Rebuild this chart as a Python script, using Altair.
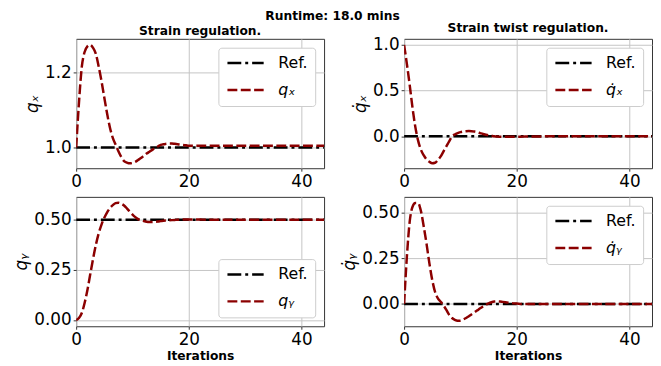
import altair as alt
import pandas as pd

# ---------------- data ----------------
iterations = [0, 0.5, 1, 1.5, 2, 2.5, 3, 3.5, 4, 4.5, 5, 5.5, 6, 6.5, 7, 7.5, 8, 8.5, 9, 9.5,
              10, 10.5, 11, 11.5, 12, 12.5, 13, 13.5, 14, 14.5, 15, 15.5, 16, 16.5, 17, 17.5,
              18, 18.5, 19, 19.5, 20, 21, 22, 23, 24, 25, 26, 27, 28, 29, 30, 31, 32, 33, 34,
              35, 36, 37, 38, 39, 40, 41, 42, 43, 44]

q_x = [1.000, 1.120, 1.215, 1.255, 1.270, 1.274, 1.266, 1.250, 1.216, 1.177, 1.133, 1.090,
       1.053, 1.026, 1.008, 0.990, 0.975, 0.964, 0.960, 0.958, 0.959, 0.962, 0.967, 0.972,
       0.978, 0.984, 0.989, 0.994, 0.999, 1.003, 1.007, 1.009, 1.010, 1.011, 1.011, 1.010,
       1.009, 1.008, 1.007, 1.006, 1.005, 1.005, 1.005, 1.005, 1.005, 1.005, 1.005, 1.005,
       1.005, 1.005, 1.005, 1.005, 1.005, 1.005, 1.005, 1.005, 1.005, 1.005, 1.005, 1.005,
       1.005, 1.005, 1.005, 1.005, 1.005]

qd_x = [1.000, 0.790, 0.560, 0.310, 0.100, -0.050, -0.150, -0.210, -0.255, -0.280, -0.295,
        -0.290, -0.260, -0.220, -0.165, -0.110, -0.055, -0.005, 0.020, 0.035, 0.045, 0.052,
        0.056, 0.057, 0.056, 0.052, 0.045, 0.035, 0.025, 0.017, 0.010, 0.005, 0.000, -0.003,
        -0.005, -0.006, -0.006, -0.006, -0.006, -0.005, -0.005, -0.004, -0.003, -0.002,
        -0.002, -0.001, -0.001, 0.000, 0.000, 0.000, 0.000, 0.000, 0.000, 0.000, 0.000,
        0.000, 0.000, 0.000, 0.000, 0.000, 0.000, 0.000, 0.000, 0.000, 0.000]

q_y = [0.000, 0.010, 0.035, 0.085, 0.150, 0.228, 0.305, 0.375, 0.432, 0.476, 0.510, 0.537,
       0.558, 0.573, 0.583, 0.585, 0.580, 0.571, 0.557, 0.541, 0.526, 0.513, 0.503, 0.497,
       0.493, 0.490, 0.489, 0.489, 0.490, 0.491, 0.493, 0.495, 0.496, 0.497, 0.498, 0.499,
       0.500, 0.500, 0.501, 0.501, 0.501, 0.501, 0.501, 0.500, 0.500, 0.500, 0.500, 0.500,
       0.500, 0.500, 0.500, 0.500, 0.500, 0.500, 0.500, 0.500, 0.500, 0.500, 0.500, 0.500,
       0.500, 0.500, 0.500, 0.500, 0.500]

qd_y = [0.000, 0.260, 0.450, 0.530, 0.550, 0.550, 0.505, 0.420, 0.325, 0.220, 0.130, 0.065,
        0.030, 0.012, -0.008, -0.033, -0.060, -0.077, -0.087, -0.092, -0.092, -0.085, -0.077,
        -0.067, -0.056, -0.046, -0.035, -0.024, -0.014, -0.005, 0.003, 0.009, 0.013, 0.014,
        0.013, 0.011, 0.009, 0.007, 0.005, 0.003, 0.002, 0.000, 0.000, 0.000, 0.000, 0.000,
        0.000, 0.000, 0.000, 0.000, 0.000, 0.000, 0.000, 0.000, 0.000, 0.000, 0.000, 0.000,
        0.000, 0.000, 0.000, 0.000, 0.000, 0.000, 0.000]

ref_x = [0, 44]
ref_qx = [1.0, 1.0]
ref_qdx = [0.0, 0.0]
ref_qy = [0.5, 0.5]
ref_qdy = [0.0, 0.0]

labels = ["q\u2093", "q\u0307\u2093", "q\u1d67", "q\u0307\u1d67"]
titles = ["Strain regulation.", "Strain twist regulation.", "", ""]
suptitle = "Runtime: 18.0 mins"
xlabel = "Iterations"

FONT = "DejaVu Sans"


def panel(series, ref, label, ydom, yticks, yfmt, title, orient, bottom):
    df = pd.DataFrame({"x": iterations, "v": series, "s": label})
    dr = pd.DataFrame({"x": ref_x, "v": ref, "s": "Ref."})
    dom = ["Ref.", label]
    legend = alt.Legend(
        title=None, orient=orient, offset=9, symbolType="M-4,0H4", symbolSize=84,
        symbolOffset=12, symbolStrokeWidth=2.5, symbolFillColor="transparent",
        labelFontSize=16, labelFont=FONT, labelColor="black",
        labelOffset=25, rowPadding=11.3, padding=7.5, strokeColor="#cccccc",
        cornerRadius=3, fillColor="white",
        labelFontStyle=alt.ExprRef(expr="datum.label == 'Ref.' ? 'normal' : 'italic'"),
    )
    color = alt.Color("s:N", scale=alt.Scale(domain=dom, range=["black", "#8b0000"]), legend=legend)
    dash = alt.StrokeDash("s:N", scale=alt.Scale(domain=dom, range=[[14, 4, 3, 4], [10, 3.5]]), legend=legend)
    xaxis = alt.Axis(values=[0, 20, 40], format="d", labelFontSize=17, labelFont=FONT,
                     labelColor="black", labelFlush=False, tickSize=3, tickColor="#333",
                     labelPadding=2, domain=False, grid=True, gridColor="#c4c4c4", gridWidth=1,
                     title=xlabel if bottom else None, titleFontSize=12.4, titleFont=FONT,
                     titleFontWeight="bold", titleColor="black", titlePadding=3)
    yaxis = alt.Axis(values=yticks, format=yfmt, labelFontSize=17, labelFont=FONT,
                     labelColor="black", labelFlush=False, tickSize=3, tickColor="#333",
                     labelPadding=2, domain=False, grid=True, gridColor="#c4c4c4", gridWidth=1,
                     title=label, titleFontSize=17, titleFont=FONT, titleFontStyle="italic",
                     titleFontWeight="normal", titleColor="black", titlePadding=3)
    xs = alt.X("x:Q", scale=alt.Scale(domain=[0, 44], nice=False), axis=xaxis)
    ys = alt.Y("v:Q", scale=alt.Scale(domain=ydom, nice=False, zero=False), axis=yaxis)
    ref_line = alt.Chart(dr).mark_line(strokeWidth=2.5, clip=True).encode(
        x=xs, y=ys, color=color, strokeDash=dash)
    q_line = alt.Chart(df).mark_line(strokeWidth=2.5, clip=True, interpolate="monotone").encode(
        x=xs, y=ys, color=color, strokeDash=dash)
    props = dict(width=251, height=131)
    if title:
        props["title"] = alt.TitleParams(title, fontSize=12.4, font=FONT, fontWeight="bold",
                                         color="black", anchor="middle", frame="group", offset=1.7)
    return alt.layer(ref_line, q_line).properties(**props)


p1 = panel(q_x, ref_qx, labels[0], [0.945, 1.29], [1.0, 1.2], ".1f", titles[0], "top-right", False)
p2 = panel(qd_x, ref_qdx, labels[1], [-0.35, 1.067], [0.0, 0.5, 1.0], ".1f", titles[1], "top-right", False)
p3 = panel(q_y, ref_qy, labels[2], [-0.031, 0.614], [0.0, 0.25, 0.5], ".2f", titles[2], "bottom-right", True)
p4 = panel(qd_y, ref_qdy, labels[3], [-0.122, 0.584], [0.0, 0.25, 0.5], ".2f", titles[3], "top-right", True)

chart = alt.concat(p1, p2, p3, p4, columns=2, spacing={"row": 6, "column": 15}, align="each").properties(
    title=alt.TitleParams(suptitle, fontSize=12.4, font=FONT, fontWeight="bold", color="black",
                          anchor="middle", offset=-1),
    padding={"left": 4, "top": 0, "right": 0, "bottom": 0},
).resolve_scale(color="independent", strokeDash="independent").configure(
    font=FONT
).configure_view(stroke="#333", strokeWidth=1)

chart.save("out.html", embed_options={"renderer": "svg", "actions": False})
